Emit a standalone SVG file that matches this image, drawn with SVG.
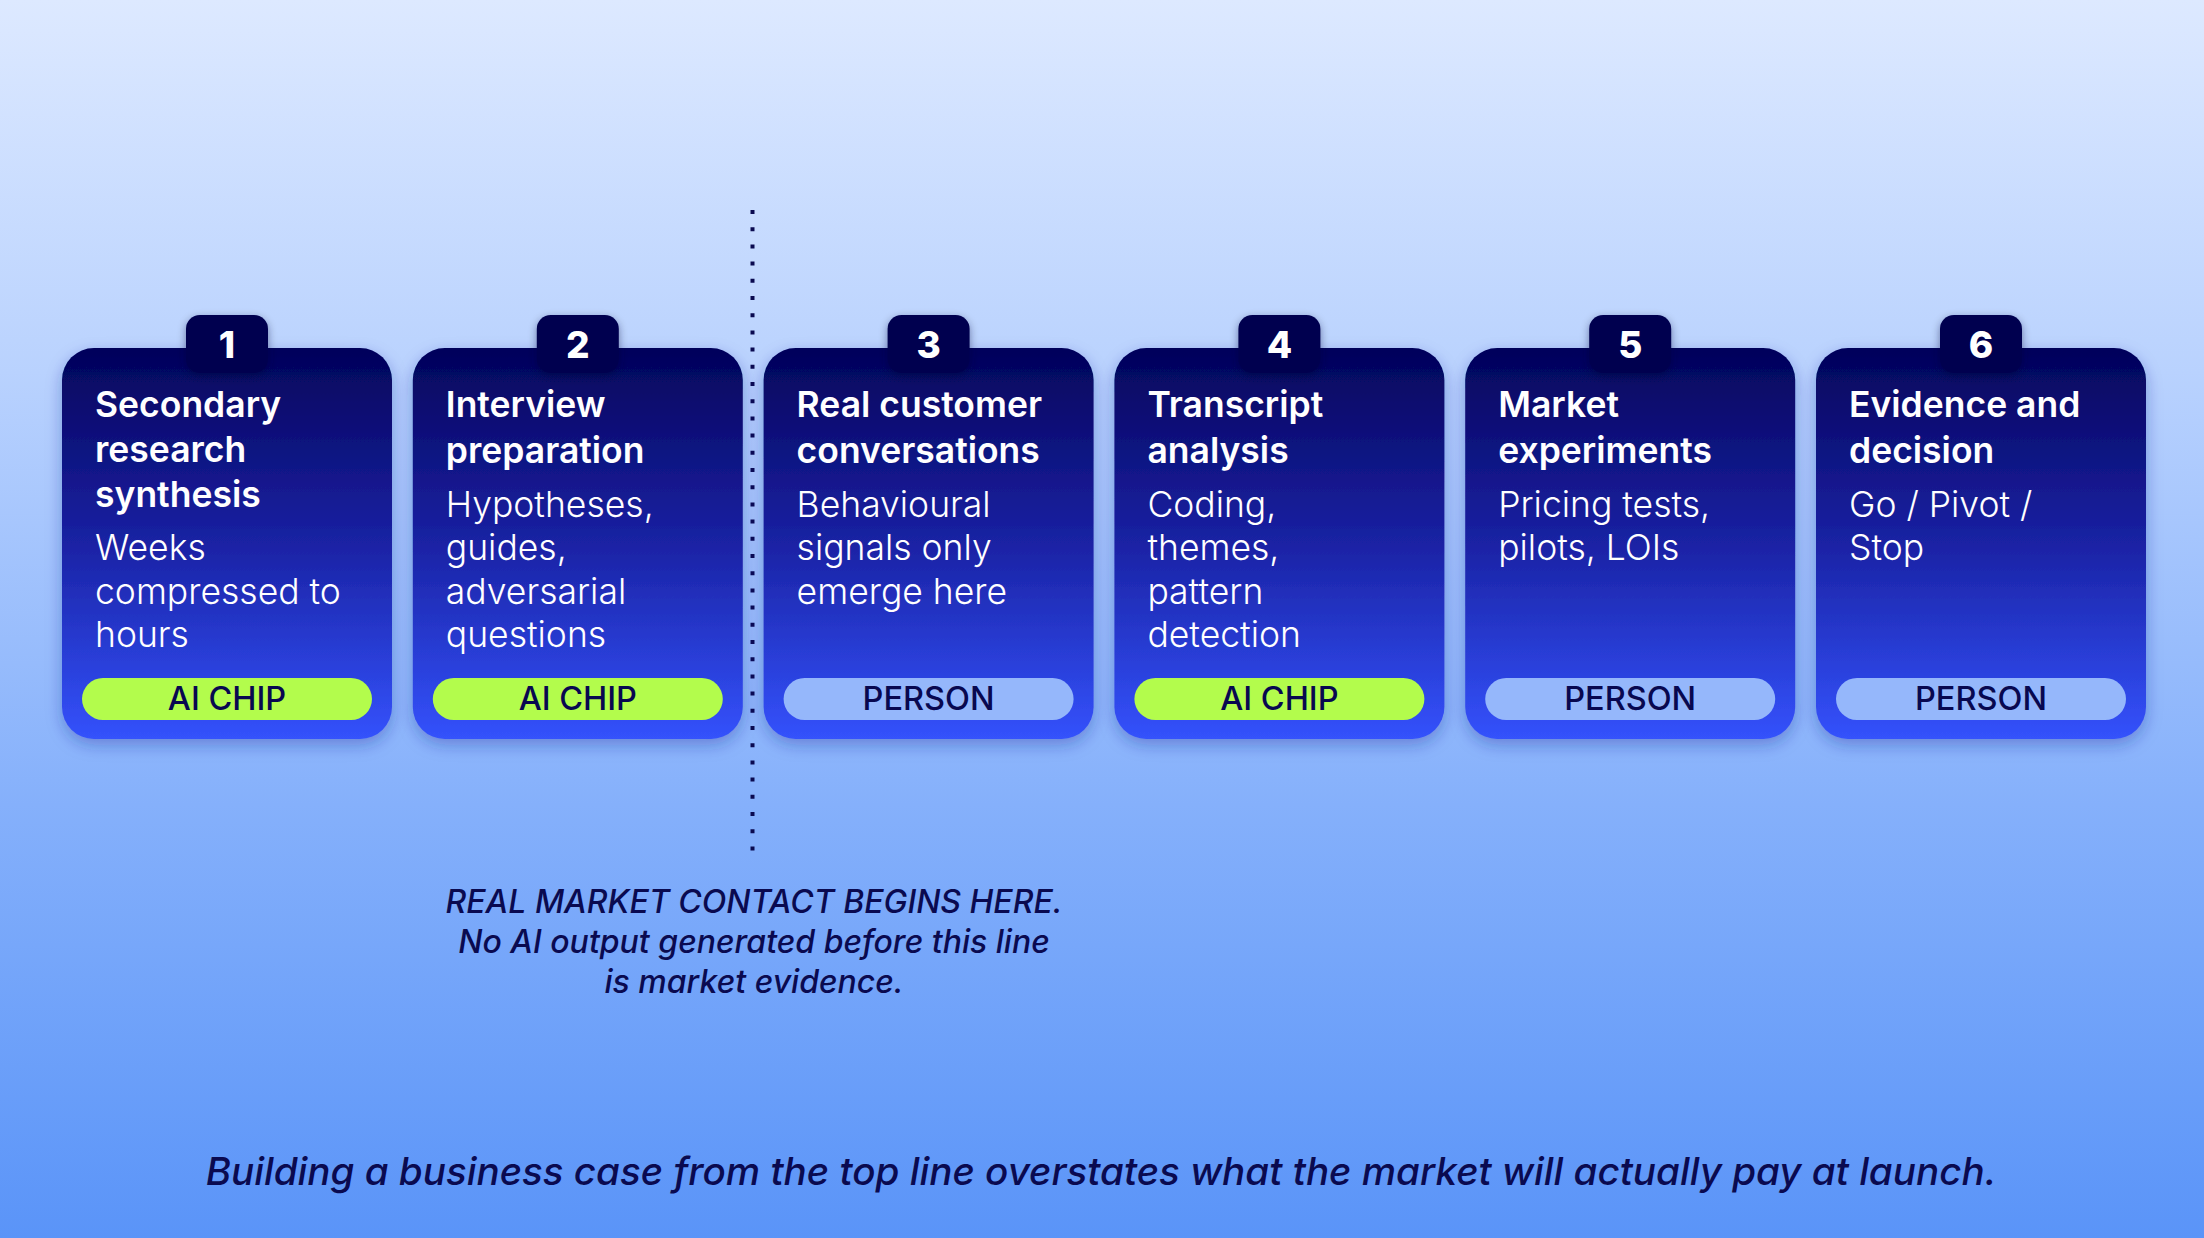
<svg xmlns="http://www.w3.org/2000/svg" width="2204" height="1238" viewBox="0 0 2204 1238">
<defs>
<linearGradient id="bg" x1="0" y1="0" x2="0" y2="1">
<stop offset="0" stop-color="#dde9ff"/>
<stop offset="0.3" stop-color="#b9d2fe"/>
<stop offset="0.65" stop-color="#85b0fb"/>
<stop offset="1" stop-color="#5a94f8"/>
</linearGradient>
<linearGradient id="card" x1="0" y1="0" x2="0" y2="1">
<stop offset="0" stop-color="#03035a"/>
<stop offset="0.5" stop-color="#1a22a4"/>
<stop offset="1" stop-color="#3452fc"/>
</linearGradient>
<filter id="sh" x="-20%" y="-20%" width="140%" height="140%">
<feDropShadow dx="0" dy="6" stdDeviation="8" flood-color="#1b2f9a" flood-opacity="0.35"/>
</filter>
<filter id="tsh" x="-30%" y="-30%" width="160%" height="160%">
<feDropShadow dx="0" dy="3" stdDeviation="4" flood-color="#000033" flood-opacity="0.45"/>
</filter>
<style>
.card{fill:url(#card);filter:url(#sh)}
.tab{fill:#03034f;filter:url(#tsh)}
.num{font-family:Inter,"Liberation Sans",sans-serif;font-weight:800;font-size:37px;fill:#ffffff;text-anchor:middle}
.ttl{font-family:Inter,"Liberation Sans",sans-serif;font-weight:600;font-size:35.5px;fill:#ffffff}
.dsc{font-family:Inter,"Liberation Sans",sans-serif;font-weight:300;font-size:35.5px;fill:#ffffff}
.ai{fill:#b3fc4c}
.pr{fill:#95b7fb}
.chip{font-family:Inter,"Liberation Sans",sans-serif;font-weight:500;font-size:32.5px;fill:#080850;text-anchor:middle}
.note{font-family:Inter,"Liberation Sans",sans-serif;font-style:italic;font-weight:500;font-size:32px;fill:#0a0a50;text-anchor:middle}
.foot{font-family:Inter,"Liberation Sans",sans-serif;font-style:italic;font-weight:500;font-size:38.6px;fill:#0a0a50;text-anchor:middle}
</style>
</defs>
<rect x="0" y="0" width="2204" height="1238" fill="url(#bg)"/>

<g id="connectors">
<line x1="752.5" y1="210" x2="752.5" y2="862" stroke="#0a0a50" stroke-width="4" stroke-dasharray="4 13.2"/>
</g>

<g id="node1" transform="translate(62,0)">
<rect class="card" x="0" y="348" width="330" height="391" rx="32"/>
<rect class="tab" x="124" y="315" width="82" height="58" rx="14"/>
<text class="num" x="165" y="358">1</text>
<text class="ttl" x="33" y="417">Secondary</text>
<text class="ttl" x="33" y="462">research</text>
<text class="ttl" x="33" y="507">synthesis</text>
<text class="dsc" x="33" y="560">Weeks</text>
<text class="dsc" x="33" y="604">compressed to</text>
<text class="dsc" x="33" y="647">hours</text>
<rect class="ai" x="20" y="678" width="290" height="42" rx="21"/>
<text class="chip" x="165" y="710">AI CHIP</text>
</g>

<g id="node2" transform="translate(412.8,0)">
<rect class="card" x="0" y="348" width="330" height="391" rx="32"/>
<rect class="tab" x="124" y="315" width="82" height="58" rx="14"/>
<text class="num" x="165" y="358">2</text>
<text class="ttl" x="33" y="417">Interview</text>
<text class="ttl" x="33" y="463">preparation</text>
<text class="dsc" x="33" y="517">Hypotheses,</text>
<text class="dsc" x="33" y="560">guides,</text>
<text class="dsc" x="33" y="604">adversarial</text>
<text class="dsc" x="33" y="647">questions</text>
<rect class="ai" x="20" y="678" width="290" height="42" rx="21"/>
<text class="chip" x="165" y="710">AI CHIP</text>
</g>

<g id="node3" transform="translate(763.6,0)">
<rect class="card" x="0" y="348" width="330" height="391" rx="32"/>
<rect class="tab" x="124" y="315" width="82" height="58" rx="14"/>
<text class="num" x="165" y="358">3</text>
<text class="ttl" x="33" y="417">Real customer</text>
<text class="ttl" x="33" y="463">conversations</text>
<text class="dsc" x="33" y="517">Behavioural</text>
<text class="dsc" x="33" y="560">signals only</text>
<text class="dsc" x="33" y="604">emerge here</text>
<rect class="pr" x="20" y="678" width="290" height="42" rx="21"/>
<text class="chip" x="165" y="710">PERSON</text>
</g>

<g id="node4" transform="translate(1114.4,0)">
<rect class="card" x="0" y="348" width="330" height="391" rx="32"/>
<rect class="tab" x="124" y="315" width="82" height="58" rx="14"/>
<text class="num" x="165" y="358">4</text>
<text class="ttl" x="33" y="417">Transcript</text>
<text class="ttl" x="33" y="463">analysis</text>
<text class="dsc" x="33" y="517">Coding,</text>
<text class="dsc" x="33" y="560">themes,</text>
<text class="dsc" x="33" y="604">pattern</text>
<text class="dsc" x="33" y="647">detection</text>
<rect class="ai" x="20" y="678" width="290" height="42" rx="21"/>
<text class="chip" x="165" y="710">AI CHIP</text>
</g>

<g id="node5" transform="translate(1465.2,0)">
<rect class="card" x="0" y="348" width="330" height="391" rx="32"/>
<rect class="tab" x="124" y="315" width="82" height="58" rx="14"/>
<text class="num" x="165" y="358">5</text>
<text class="ttl" x="33" y="417">Market</text>
<text class="ttl" x="33" y="463">experiments</text>
<text class="dsc" x="33" y="517">Pricing tests,</text>
<text class="dsc" x="33" y="560">pilots, LOIs</text>
<rect class="pr" x="20" y="678" width="290" height="42" rx="21"/>
<text class="chip" x="165" y="710">PERSON</text>
</g>

<g id="node6" transform="translate(1816,0)">
<rect class="card" x="0" y="348" width="330" height="391" rx="32"/>
<rect class="tab" x="124" y="315" width="82" height="58" rx="14"/>
<text class="num" x="165" y="358">6</text>
<text class="ttl" x="33" y="417">Evidence and</text>
<text class="ttl" x="33" y="463">decision</text>
<text class="dsc" x="33" y="517">Go / Pivot /</text>
<text class="dsc" x="33" y="560">Stop</text>
<rect class="pr" x="20" y="678" width="290" height="42" rx="21"/>
<text class="chip" x="165" y="710">PERSON</text>
</g>

<g id="note">
<text class="note" x="754" y="913">REAL MARKET CONTACT BEGINS HERE.</text>
<text class="note" x="754" y="953">No AI output generated before this line</text>
<text class="note" x="754" y="993">is market evidence.</text>
</g>

<text class="foot" x="1101" y="1185">Building a business case from the top line overstates what the market will actually pay at launch.</text>
</svg>
